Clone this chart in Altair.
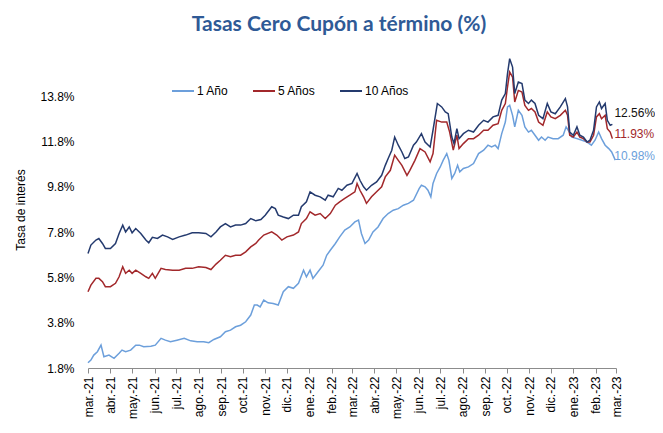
import altair as alt
import pandas as pd

series_names = ["1 Año", "5 Años", "10 Años"]
series_colors = ["#6C9FDB", "#A2282B", "#243A6E"]
label_colors = ["#6C9FDB", "#A2282B", "#111111"]

month_abbr = ["ene.", "feb.", "mar.", "abr.", "may.", "jun.",
              "jul.", "ago.", "sep.", "oct.", "nov.", "dic."]
y_ticks = [1.8, 3.8, 5.8, 7.8, 9.8, 11.8, 13.8]

dates_10y = [
    "2021-03-01", "2021-03-05", "2021-03-12", "2021-03-16", "2021-03-21", "2021-03-25",
    "2021-04-01", "2021-04-08", "2021-04-13", "2021-04-18", "2021-04-22", "2021-04-27",
    "2021-05-01", "2021-05-06", "2021-05-13", "2021-05-20", "2021-05-24", "2021-05-29",
    "2021-06-05", "2021-06-12", "2021-06-19", "2021-06-26", "2021-07-05", "2021-07-14",
    "2021-07-23", "2021-08-01", "2021-08-11", "2021-08-18", "2021-08-25", "2021-08-31",
    "2021-09-07", "2021-09-14", "2021-09-21", "2021-09-28", "2021-10-05", "2021-10-12",
    "2021-10-19", "2021-10-26", "2021-11-01", "2021-11-10", "2021-11-15", "2021-11-19",
    "2021-11-26", "2021-12-03", "2021-12-10", "2021-12-17", "2021-12-21", "2021-12-28",
    "2022-01-02", "2022-01-09", "2022-01-16", "2022-01-23", "2022-01-27", "2022-02-03",
    "2022-02-10", "2022-02-15", "2022-02-22", "2022-03-01", "2022-03-08", "2022-03-12",
    "2022-03-17", "2022-03-21", "2022-03-28", "2022-04-04", "2022-04-11", "2022-04-16",
    "2022-04-20", "2022-04-25", "2022-04-29", "2022-05-04", "2022-05-09", "2022-05-13",
    "2022-05-18", "2022-05-25", "2022-05-29", "2022-06-05", "2022-06-10", "2022-06-17",
    "2022-06-21", "2022-06-27", "2022-07-03", "2022-07-08", "2022-07-12", "2022-07-17",
    "2022-07-20", "2022-07-24", "2022-07-27", "2022-08-02", "2022-08-09", "2022-08-16",
    "2022-08-23", "2022-08-30", "2022-09-05", "2022-09-12", "2022-09-19", "2022-09-24",
    "2022-09-29", "2022-10-02", "2022-10-05", "2022-10-09", "2022-10-12", "2022-10-17",
    "2022-10-22", "2022-10-26", "2022-10-31", "2022-11-04", "2022-11-09", "2022-11-14",
    "2022-11-20", "2022-11-26", "2022-12-01", "2022-12-07", "2022-12-14", "2022-12-21",
    "2022-12-24", "2022-12-27", "2023-01-01", "2023-01-06", "2023-01-10", "2023-01-15",
    "2023-01-20", "2023-01-24", "2023-01-29", "2023-02-02", "2023-02-06", "2023-02-09",
    "2023-02-14", "2023-02-17", "2023-02-21", "2023-02-24",
]
vals_10y = [
    6.86, 7.23, 7.45, 7.52, 7.30, 7.08,
    7.08, 7.30, 7.74, 8.11, 7.81, 8.03,
    7.77, 7.96, 7.74, 7.45, 7.33, 7.57,
    7.52, 7.67, 7.59, 7.48, 7.59, 7.67,
    7.77, 7.77, 7.74, 7.59, 7.81, 8.03,
    8.18, 8.03, 8.11, 8.11, 8.18, 8.40,
    8.30, 8.36, 8.55, 8.92, 8.84, 8.55,
    8.47, 8.40, 8.55, 8.55, 8.92, 9.14,
    9.58, 9.43, 9.36, 9.21, 9.43, 9.36,
    9.73, 9.65, 9.87, 9.95, 10.39, 10.09,
    9.80, 9.65, 9.87, 10.02, 10.31, 10.75,
    11.05, 11.42, 12.00, 11.64, 11.34, 11.05,
    11.12, 11.64, 11.78, 12.15, 11.78, 11.56,
    12.30, 13.48, 13.33, 13.11, 13.03, 12.00,
    11.71, 12.37, 11.93, 12.15, 12.30, 12.22,
    12.52, 12.74, 12.66, 12.89, 12.96, 13.63,
    13.92, 14.80, 15.46, 15.09, 13.92, 14.43,
    14.36, 13.63, 13.48, 13.63, 13.48, 12.96,
    12.81, 13.48, 13.11, 13.03, 13.33, 13.70,
    13.33, 12.22, 12.08, 12.45, 12.08, 12.00,
    11.78, 11.86, 12.30, 13.33, 13.55, 13.26,
    13.48, 12.74, 12.52, 12.56,
]

dates_5y = [
    "2021-03-01", "2021-03-05", "2021-03-12", "2021-03-16", "2021-03-21", "2021-03-25",
    "2021-04-01", "2021-04-08", "2021-04-13", "2021-04-18", "2021-04-22", "2021-04-27",
    "2021-05-01", "2021-05-06", "2021-05-13", "2021-05-20", "2021-05-24", "2021-05-29",
    "2021-06-02", "2021-06-10", "2021-06-16", "2021-06-26", "2021-07-05", "2021-07-14",
    "2021-07-23", "2021-08-01", "2021-08-11", "2021-08-18", "2021-08-25", "2021-08-31",
    "2021-09-07", "2021-09-14", "2021-09-21", "2021-09-28", "2021-10-05", "2021-10-12",
    "2021-10-19", "2021-10-23", "2021-10-30", "2021-11-10", "2021-11-17", "2021-11-24",
    "2021-12-01", "2021-12-10", "2021-12-17", "2021-12-21", "2021-12-28", "2022-01-02",
    "2022-01-09", "2022-01-16", "2022-01-23", "2022-01-30", "2022-02-06", "2022-02-12",
    "2022-02-19", "2022-02-26", "2022-03-05", "2022-03-08", "2022-03-12", "2022-03-17",
    "2022-03-21", "2022-03-28", "2022-04-04", "2022-04-11", "2022-04-16", "2022-04-23",
    "2022-04-29", "2022-05-04", "2022-05-09", "2022-05-16", "2022-05-20", "2022-05-27",
    "2022-06-03", "2022-06-10", "2022-06-17", "2022-06-21", "2022-06-26", "2022-07-03",
    "2022-07-10", "2022-07-14", "2022-07-19", "2022-07-24", "2022-07-27", "2022-08-02",
    "2022-08-09", "2022-08-16", "2022-08-23", "2022-08-30", "2022-09-05", "2022-09-12",
    "2022-09-19", "2022-09-24", "2022-09-29", "2022-10-02", "2022-10-05", "2022-10-09",
    "2022-10-12", "2022-10-17", "2022-10-22", "2022-10-26", "2022-10-31", "2022-11-04",
    "2022-11-09", "2022-11-14", "2022-11-20", "2022-11-26", "2022-12-01", "2022-12-07",
    "2022-12-14", "2022-12-21", "2022-12-24", "2022-12-27", "2023-01-01", "2023-01-06",
    "2023-01-10", "2023-01-15", "2023-01-20", "2023-01-24", "2023-01-29", "2023-02-02",
    "2023-02-06", "2023-02-09", "2023-02-14", "2023-02-17", "2023-02-21", "2023-02-24",
]
vals_5y = [
    5.17, 5.46, 5.76, 5.76, 5.61, 5.39,
    5.39, 5.54, 5.83, 6.27, 5.98, 6.12,
    5.98, 6.12, 5.98, 5.83, 5.76, 5.98,
    5.76, 6.20, 6.15, 6.12, 6.12, 6.20,
    6.20, 6.27, 6.24, 6.15, 6.39, 6.56,
    6.78, 6.71, 6.78, 6.78, 6.93, 7.15,
    7.30, 7.45, 7.67, 7.81, 7.67, 7.45,
    7.59, 7.67, 7.81, 8.18, 8.40, 8.70,
    8.55, 8.62, 8.40, 8.62, 8.99, 9.14,
    9.29, 9.43, 9.58, 9.95, 9.65, 9.36,
    9.07, 9.36, 9.58, 9.80, 10.24, 10.53,
    11.20, 10.97, 10.75, 10.31, 10.53, 10.97,
    11.49, 11.34, 10.90, 11.27, 12.74, 12.66,
    12.66, 12.22, 11.42, 12.08, 11.49, 11.71,
    11.93, 11.93, 12.08, 12.30, 12.30, 12.52,
    12.59, 13.18, 13.48, 14.21, 14.87, 14.65,
    13.55, 14.06, 13.99, 13.40, 13.18, 13.26,
    13.11, 12.66, 12.52, 13.11, 12.89, 12.81,
    12.96, 13.18, 12.96, 12.08, 12.00, 12.22,
    12.00, 11.93, 11.78, 11.78, 12.08, 12.89,
    13.03, 12.81, 12.96, 12.37, 12.22, 11.93,
]

dates_1y = [
    "2021-03-01", "2021-03-05", "2021-03-09", "2021-03-14", "2021-03-19", "2021-03-23",
    "2021-03-30", "2021-04-06", "2021-04-13", "2021-04-17", "2021-04-22", "2021-04-29",
    "2021-05-06", "2021-05-11", "2021-05-17", "2021-05-27", "2021-06-02", "2021-06-10",
    "2021-06-16", "2021-06-23", "2021-07-02", "2021-07-12", "2021-07-21", "2021-07-30",
    "2021-08-08", "2021-08-15", "2021-08-22", "2021-08-31", "2021-09-07", "2021-09-14",
    "2021-09-21", "2021-09-28", "2021-10-05", "2021-10-12", "2021-10-17", "2021-10-21",
    "2021-10-25", "2021-10-30", "2021-11-05", "2021-11-12", "2021-11-19", "2021-11-26",
    "2021-12-03", "2021-12-10", "2021-12-17", "2021-12-24", "2021-12-28", "2022-01-02",
    "2022-01-06", "2022-01-13", "2022-01-20", "2022-01-25", "2022-01-30", "2022-02-06",
    "2022-02-12", "2022-02-19", "2022-02-26", "2022-03-05", "2022-03-10", "2022-03-14",
    "2022-03-19", "2022-03-24", "2022-03-30", "2022-04-06", "2022-04-13", "2022-04-20",
    "2022-04-27", "2022-05-04", "2022-05-11", "2022-05-18", "2022-05-25", "2022-06-02",
    "2022-06-05", "2022-06-10", "2022-06-14", "2022-06-18", "2022-06-21", "2022-06-26",
    "2022-07-01", "2022-07-05", "2022-07-10", "2022-07-13", "2022-07-17", "2022-07-21",
    "2022-07-25", "2022-07-28", "2022-08-02", "2022-08-09", "2022-08-16", "2022-08-23",
    "2022-08-30", "2022-09-05", "2022-09-10", "2022-09-15", "2022-09-19", "2022-09-24",
    "2022-09-29", "2022-10-02", "2022-10-05", "2022-10-09", "2022-10-12", "2022-10-17",
    "2022-10-22", "2022-10-26", "2022-10-31", "2022-11-04", "2022-11-09", "2022-11-14",
    "2022-11-18", "2022-11-23", "2022-11-27", "2022-12-04", "2022-12-11", "2022-12-18",
    "2022-12-22", "2022-12-25", "2022-12-30", "2023-01-06", "2023-01-13", "2023-01-20",
    "2023-01-26", "2023-01-31", "2023-02-05", "2023-02-09", "2023-02-14", "2023-02-19",
    "2023-02-23", "2023-02-28",
]
vals_1y = [
    2.03, 2.15, 2.37, 2.52, 2.81, 2.30,
    2.37, 2.23, 2.45, 2.59, 2.52, 2.59,
    2.81, 2.81, 2.74, 2.76, 2.81, 3.11,
    3.03, 2.96, 3.03, 3.11, 3.00, 2.96,
    2.96, 2.92, 3.06, 3.18, 3.40, 3.47,
    3.62, 3.69, 3.84, 4.14, 4.58, 4.58,
    4.50, 4.80, 4.68, 4.65, 4.58, 5.17,
    5.39, 5.32, 5.54, 6.12, 5.83, 6.12,
    5.76, 6.05, 6.34, 6.78, 7.00, 7.30,
    7.59, 7.89, 8.03, 8.25, 8.33, 7.74,
    7.30, 7.45, 7.81, 8.03, 8.40, 8.62,
    8.77, 8.84, 8.99, 9.07, 9.21, 9.73,
    9.87, 9.80, 9.65, 9.36, 9.95, 10.39,
    10.68, 10.97, 11.27, 10.97, 10.17, 10.39,
    10.75, 10.46, 10.61, 10.68, 10.83, 11.27,
    11.42, 11.64, 11.56, 11.64, 11.49, 12.15,
    12.66, 13.33, 13.40, 12.96, 12.45, 13.18,
    12.96, 12.45, 12.22, 12.30, 12.08, 11.86,
    12.00, 11.86, 12.00, 11.93, 11.93, 12.08,
    12.45, 12.30, 12.00, 11.93, 11.86, 11.78,
    11.64, 11.86, 12.22, 11.93, 11.64, 11.49,
    11.34, 10.98,
]

all_dates = [dates_1y, dates_5y, dates_10y]
all_vals = [vals_1y, vals_5y, vals_10y]

rows = []
for idx, (name, ds, vs) in enumerate(zip(series_names, all_dates, all_vals)):
    for d, v in zip(ds, vs):
        rows.append({"fecha": d, "tasa": v, "serie": name, "serie_idx": idx})
df = pd.DataFrame(rows)

label_expr_x = (
    "[" + ",".join("'" + m + "'" for m in month_abbr) + "][utcmonth(datum.value)]"
    " + '-' + utcFormat(datum.value, '%y')"
)

x_scale = alt.Scale(
    type="utc",
    domain=[alt.DateTime(year=2021, month=3, date=1, utc=True),
            alt.DateTime(year=2023, month=3, date=1, utc=True)],
)
y_scale = alt.Scale(domain=[1.8, 15.8], nice=False, zero=False)

x_axis = alt.Axis(
    tickCount=alt.TimeIntervalStep(interval="month", step=1),
    labelExpr=label_expr_x,
    labelAngle=270,
    labelFont="Liberation Sans",
    labelFontSize=12,
    labelColor="#000000",
    labelPadding=3,
    labelOverlap=False,
    labelFlush=False,
    domainColor="#8C8C8C",
    tickColor="#8C8C8C",
    tickSize=5,
    grid=False,
    title=None,
)
y_axis = alt.Axis(
    values=y_ticks,
    labelExpr="format(datum.value, '.1f') + '%'",
    labelFont="Liberation Sans",
    labelFontSize=12,
    labelColor="#000000",
    labelPadding=14,
    domain=False,
    ticks=False,
    tickSize=0,
    grid=False,
    title="Tasa de interés",
    titleFont="Liberation Sans",
    titleFontSize=12,
    titleFontWeight="normal",
    titleColor="#000000",
    titlePadding=12,
)

lines = alt.Chart(df).mark_line(strokeWidth=1.5).encode(
    x=alt.X("fecha:T", scale=x_scale, axis=x_axis),
    y=alt.Y("tasa:Q", scale=y_scale, axis=y_axis),
    color=alt.Color(
        "serie:N",
        scale=alt.Scale(domain=series_names, range=series_colors),
        sort=series_names,
        legend=alt.Legend(
            orient="none", legendX=83, legendY=28, direction="horizontal",
            title=None, symbolType="stroke", symbolSize=484, symbolStrokeWidth=2,
            labelFont="Liberation Sans", labelFontSize=12, labelColor="#000000",
            columnPadding=20, labelOffset=2, padding=0,
        ),
    ),
    order=alt.Order("serie_idx:Q"),
)

label_dx = [-1, 2, 2]
label_dy = [-4, -5, -11]
text_layers = []
for i, name in enumerate(series_names):
    last = pd.DataFrame({
        "fecha": [all_dates[i][-1]],
        "tasa": [all_vals[i][-1]],
        "txt": [f"{all_vals[i][-1]:.2f}%"],
    })
    text_layers.append(
        alt.Chart(last).mark_text(
            align="left", baseline="middle", dx=label_dx[i], dy=label_dy[i],
            font="Liberation Sans", fontSize=12, color=label_colors[i],
        ).encode(
            x=alt.X("fecha:T", scale=x_scale),
            y=alt.Y("tasa:Q", scale=y_scale),
            text="txt:N",
        )
    )

chart = alt.layer(lines, *text_layers).properties(
    width=528,
    height=317,
    autosize=alt.AutoSizeParams(type="none"),
    padding={"left": 80, "top": 43, "right": 39, "bottom": 52},
    title=alt.TitleParams(
        text="Tasas Cero Cupón a término (%)",
        font="Lato", fontSize=21, fontWeight="bold", color="#2F5A96",
        anchor="middle", dx=-13, offset=-1, baseline="alphabetic",
    ),
    background="white",
).configure_view(stroke=None)

chart.save("out.html", embed_options={"renderer": "svg", "actions": False})
